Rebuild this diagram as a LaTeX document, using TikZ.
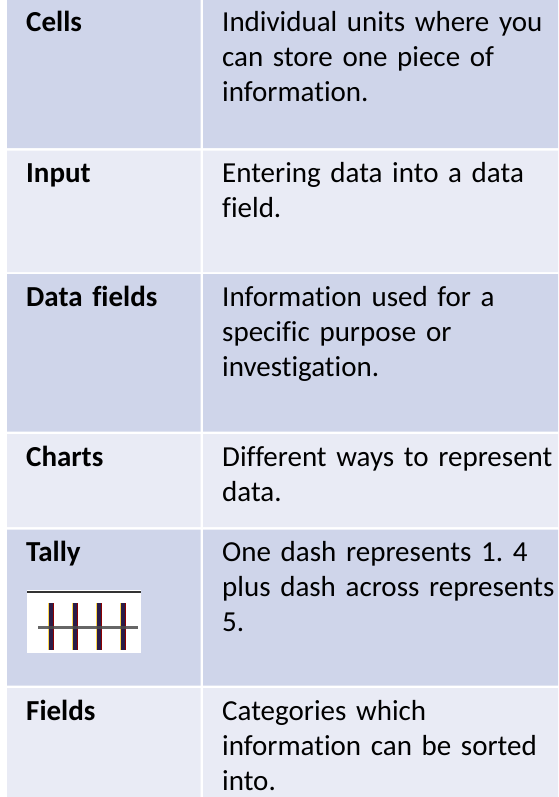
\documentclass[tikz,border=0pt]{standalone}
\usepackage{fontspec}
\setmainfont{Carlito}[Ligatures=CommonOff]
\usetikzlibrary{positioning}
\definecolor{rowdark}{HTML}{CFD5EA}
\definecolor{rowlight}{HTML}{E9EBF5}
\definecolor{tallyink}{HTML}{2A1C48}
\tikzset{
x=1pt, y=-1pt, % one unit is one pixel of the page, y grows downwards
term/.style={anchor=base west, inner sep=0pt, text width=175pt, align=left, font=\fontsize{29}{35}\selectfont\frenchspacing\bfseries}, % left column
meaning/.style={anchor=base west, inner sep=0pt, text width=340pt, align=left, font=\fontsize{29}{35}\selectfont\frenchspacing}, % right column
}
\begin{document}
\begin{tikzpicture}
    \useasboundingbox (0,0) rectangle (558,797);
    % cell backgrounds
    \fill[rowdark] (7,0) rectangle (200.5,148) (203,0) rectangle (558,148);
    \fill[rowlight] (7,150.5) rectangle (200.5,272) (203,150.5) rectangle (558,272);
    \fill[rowdark] (7,274) rectangle (200.5,431.5) (203,274) rectangle (558,431.5);
    \fill[rowlight] (7,434) rectangle (200.5,527) (203,434) rectangle (558,527);
    \fill[rowdark] (7,529.5) rectangle (200.5,685.5) (203,529.5) rectangle (558,685.5);
    \fill[rowlight] (7,688) rectangle (200.5,797) (203,688) rectangle (558,797);
    \node[term] at (26,32) (cells) {Cells};
    \node[meaning] at (222,32) (cellsdef) {Individual units where you\\can store one piece of\\information.};
    \node[term] at (26,182) (input) {Input};
    \node[meaning] at (222,182) (inputdef) {Entering data into a data\\field.};
    \node[term] at (26,306) (datafields) {Data fields};
    \node[meaning] at (222,306) (datafieldsdef) {Information used for a\\specific purpose or\\investigation.};
    \node[term] at (26,466) (charts) {Charts};
    \node[meaning] at (222,466) (chartsdef) {Different ways to represent\\data.};
    \node[term] at (26,561) (tally) {Tally};
    \node[meaning] at (222,561) (tallydef) {One dash represents 1. 4\\plus dash across represents\\5.};
    \node[term] at (26,720) (fields) {Fields};
    \node[meaning] at (222,720) (fieldsdef) {Categories which\\information can be sorted\\into.};
    % tally picture
    \node[fill=white, anchor=north west, inner sep=0pt, minimum width=114pt, minimum height=63pt] at (27,590) (tallypic) {};
    \draw[line width=1.3pt, black!80] (tallypic.north west) ++(0,2) -- ++(114,0);
    \draw[line width=1.2pt, red!55!black] (53,603) -- (53,650) (77,603) -- (77,650) (101,603) -- (101,650) (125,603) -- (125,650);
    \draw[line width=1pt, yellow!60!orange, opacity=.7] (48.3,603) -- (48.3,650) (72.3,603) -- (72.3,650) (96.3,603) -- (96.3,650) (120.3,603) -- (120.3,650);
    \draw[line width=3.8pt, tallyink] (50.7,603) -- (50.7,650) (74.7,603) -- (74.7,650) (98.7,603) -- (98.7,650) (122.7,603) -- (122.7,650);
    \draw[line width=2.8pt, black!70, opacity=.85] (38,627.5) -- (138,627.5);
\end{tikzpicture}
\end{document}
